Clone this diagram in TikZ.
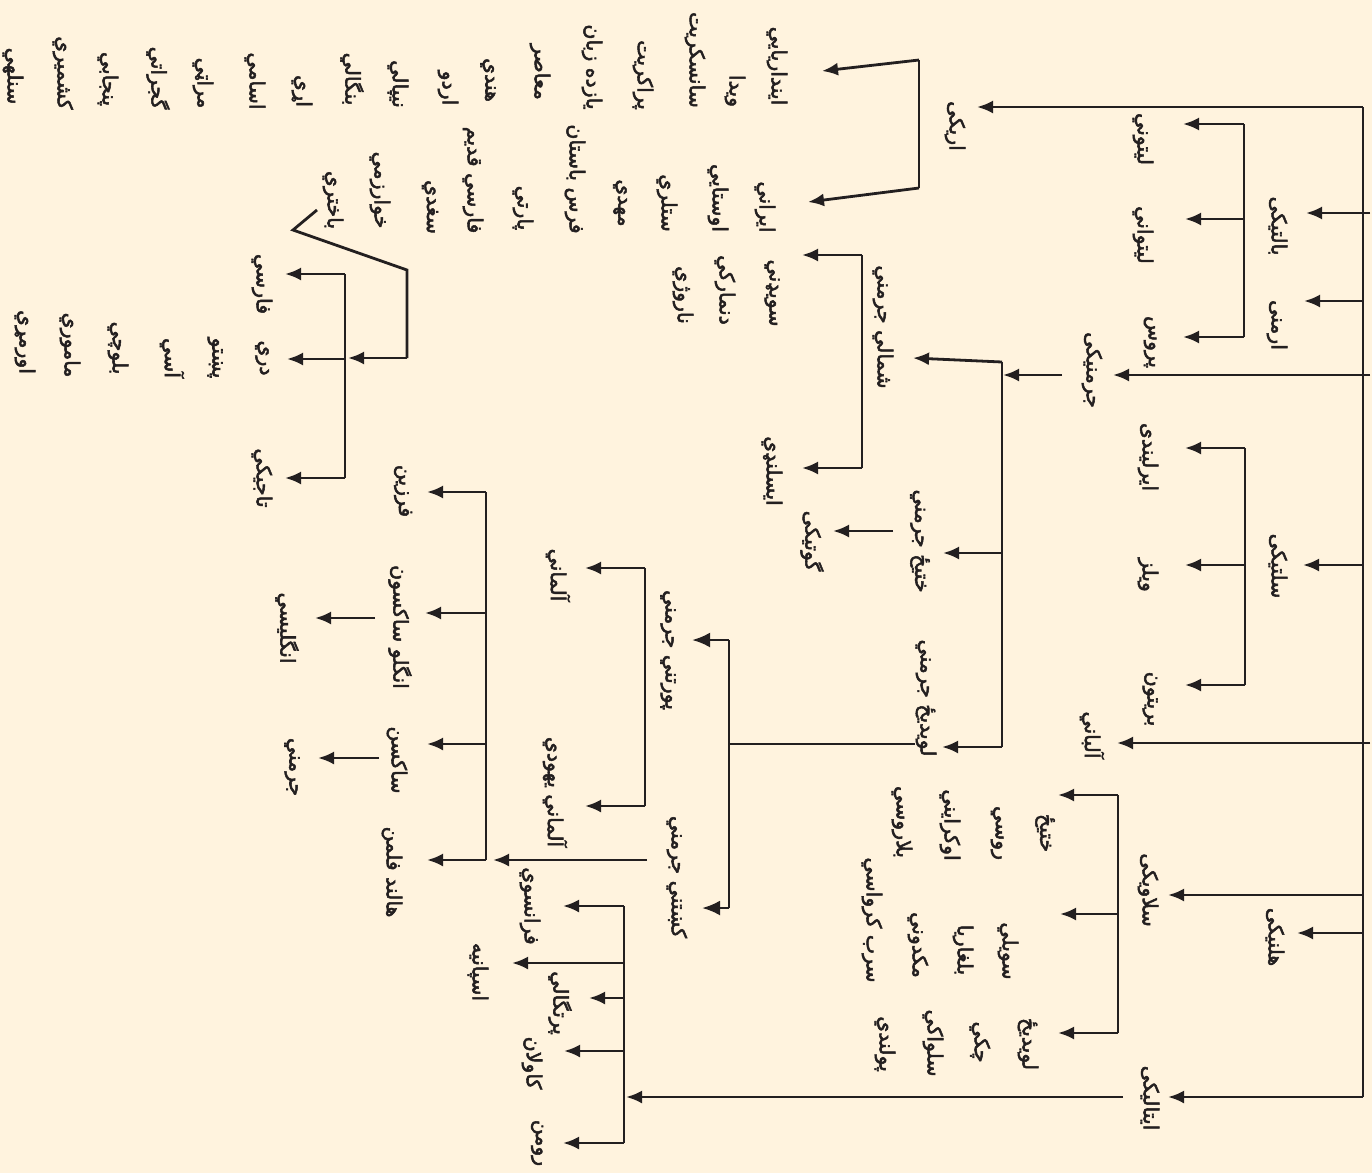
\documentclass[tikz,border=0pt]{standalone}
\usepackage{fontspec}
\newfontfamily\pashtofont[Script=Arabic,FakeBold=2.5]{DejaVu Sans}
\TeXXeTstate=1
\usetikzlibrary{arrows.meta}
\definecolor{paper}{HTML}{FFF3DE}
\definecolor{ink}{HTML}{231F20}
\newcommand\myrtl[1]{\beginR #1\endR}
\tikzset{
  lbl/.style={rotate=-90, inner sep=0pt, text=ink, font=\pashtofont\fontsize{20.5}{22}\selectfont},
  ln/.style={line width=2.8pt, draw=ink, line cap=butt, line join=miter},
  arr/.style={ln, -{Latex[length=16pt,width=13pt]}},
  bigarr/.style={ln, -{Latex[length=18pt,width=15pt]}}
}
\begin{document}
\begin{tikzpicture}[x=1pt,y=-1pt]
\fill[paper] (0,0) rectangle (1372,1173);
\useasboundingbox (0,0) rectangle (1372,1173);

% ---------- labels ----------
% top level
\node[lbl] (aryan) at (955,126) {\myrtl{اریکی}};
\node[lbl] (baltic) at (1278,226) {\myrtl{بالتیکی}};
\node[lbl] (armen) at (1277,325) {\myrtl{ارمنی}};
\node[lbl] (germ) at (1092,370) {\myrtl{جرمنیکی}};
\node[lbl] (celt) at (1278,566) {\myrtl{سلتیکی}};
\node[lbl] (alban) at (1092,735) {\myrtl{آلباني}};
\node[lbl] (slav) at (1148,890) {\myrtl{سلاویکی}};
\node[lbl] (hellen) at (1275,937) {\myrtl{هلنیکی}};
\node[lbl] (ital) at (1150,1098) {\myrtl{ایتالیکی}};
% baltic
\node[lbl] (latv) at (1143,139) {\myrtl{لیتوني}};
\node[lbl] (lith) at (1143,235) {\myrtl{لیتواني}};
\node[lbl] (prus) at (1150,342) {\myrtl{پروس}};
% celtic
\node[lbl] (irish) at (1148,457) {\myrtl{ایرلیندی}};
\node[lbl] (welsh) at (1148,575) {\myrtl{ویلز}};
\node[lbl] (breton) at (1150,699) {\myrtl{بریتون}};
% slavic
\node[lbl] (eslav) at (1045,833) {\myrtl{ختیځ}};
\node[lbl] (russ) at (997,833) {\myrtl{روسي}};
\node[lbl] (ukr) at (950,825) {\myrtl{اوکرایني}};
\node[lbl] (belar) at (902,822) {\myrtl{بلاروسي}};
\node[lbl] (sslav) at (1008,951) {\myrtl{سویلي}};
\node[lbl] (bulg) at (963,950) {\myrtl{بلغاریا}};
\node[lbl] (maced) at (918,945) {\myrtl{مکدوني}};
\node[lbl] (serb) at (872,920) {\myrtl{سرب کرواسي}};
\node[lbl] (wslav) at (1028,1044) {\myrtl{لویدیځ}};
\node[lbl] (czech) at (980,1042) {\myrtl{چکي}};
\node[lbl] (slovak) at (933,1043) {\myrtl{سلواکي}};
\node[lbl] (polish) at (885,1044) {\myrtl{پولندي}};
% germanic
\node[lbl] (ngerm) at (883,327) {\myrtl{شمالي جرمني}};
\node[lbl] (swed) at (772,293) {\myrtl{سویډني}};
\node[lbl] (dan) at (725,290) {\myrtl{دنمارکي}};
\node[lbl] (norw) at (683,295) {\myrtl{ناروژي}};
\node[lbl] (icel) at (772,471) {\myrtl{ایسلنډي}};
\node[lbl] (egerm) at (920,541) {\myrtl{ختیځ جرمني}};
\node[lbl] (goth) at (812,541) {\myrtl{گوتیکی}};
\node[lbl] (wgerm) at (926,698) {\myrtl{لویدیځ جرمني}};
\node[lbl] (hgerm) at (668,650) {\myrtl{پورتني جرمني}};
\node[lbl] (lgerm) at (677,877) {\myrtl{کښتني جرمني}};
\node[lbl] (german1) at (558,575) {\myrtl{آلماني}};
\node[lbl] (yidd) at (555,792) {\myrtl{آلماني یهودي}};
\node[lbl] (fris) at (403,491) {\myrtl{فرزین}};
\node[lbl] (anglo) at (400,627) {\myrtl{انگلو ساکسون}};
\node[lbl] (saxon) at (397,760) {\myrtl{ساکسن}};
\node[lbl] (dutch) at (392,872) {\myrtl{هالند فلمن}};
\node[lbl] (engl) at (287,628) {\myrtl{انگلیسي}};
\node[lbl] (german2) at (292,767) {\myrtl{جرمني}};
% italic
\node[lbl] (french) at (530,906) {\myrtl{فرانسوي}};
\node[lbl] (span) at (478,972) {\myrtl{اسپانیه}};
\node[lbl] (port) at (560,1003) {\myrtl{پرتگالي}};
\node[lbl] (catal) at (532,1063) {\myrtl{کاولان}};
\node[lbl] (roman) at (537,1143) {\myrtl{رومن}};
% aryan
\node[lbl] (indo) at (777,66) {\myrtl{اینداریایي}};
\node[lbl] (veda) at (735,91) {\myrtl{ویدا}};
\node[lbl] (sansk) at (695,60) {\myrtl{سانسکریت}};
\node[lbl] (prak) at (643,75) {\myrtl{پراکریت}};
\node[lbl] (yazd) at (592,67) {\myrtl{یازده زبان}};
\node[lbl] (moas) at (540,72) {\myrtl{معاصر}};
\node[lbl] (hindi) at (488,80) {\myrtl{هندي}};
\node[lbl] (urdu) at (448,88) {\myrtl{اردو}};
\node[lbl] (nepal) at (398,84) {\myrtl{نیپالي}};
\node[lbl] (beng) at (352,79) {\myrtl{بنگالي}};
\node[lbl] (oriya) at (302,91) {\myrtl{اړي}};
\node[lbl] (assam) at (255,81) {\myrtl{اسامي}};
\node[lbl] (marat) at (203,83) {\myrtl{مراټي}};
\node[lbl] (gujar) at (158,78) {\myrtl{گجراتي}};
\node[lbl] (punj) at (108,79) {\myrtl{پنجابي}};
\node[lbl] (kashm) at (63,73) {\myrtl{کشمیري}};
\node[lbl] (sinh) at (13,76) {\myrtl{سنلهي}};
\node[lbl] (iran) at (765,207) {\myrtl{ایراني}};
\node[lbl] (avest) at (718,198) {\myrtl{اوستایي}};
\node[lbl] (scyth) at (667,203) {\myrtl{ستلري}};
\node[lbl] (median) at (620,203) {\myrtl{مهدي}};
\node[lbl] (oldpers) at (575,179) {\myrtl{فرس باستان}};
\node[lbl] (parth) at (523,208) {\myrtl{پارتي}};
\node[lbl] (midpers) at (473,180) {\myrtl{فارسي قدیم}};
\node[lbl] (sogd) at (430,207) {\myrtl{سغدي}};
\node[lbl] (khwar) at (380,190) {\myrtl{خوارزمي}};
\node[lbl] (bact) at (333,200) {\myrtl{باختري}};
\node[lbl] (pers) at (262,284) {\myrtl{فارسي}};
\node[lbl] (dari) at (262,358) {\myrtl{دري}};
\node[lbl] (tajik) at (262,478) {\myrtl{تاجیکي}};
\node[lbl] (pasht) at (215,358) {\myrtl{پښتو}};
\node[lbl] (osset) at (172,358) {\myrtl{آسي}};
\node[lbl] (baluch) at (118,348) {\myrtl{بلوچي}};
\node[lbl] (mamor) at (70,345) {\myrtl{ماموري}};
\node[lbl] (ormur) at (25,342) {\myrtl{اورمړي}};

% ---------- junction coordinates ----------
\coordinate (rootT) at (1363,107);
\coordinate (rootB) at (1363,1097);
\coordinate (baltT) at (1244,124);
\coordinate (baltB) at (1244,337);
\coordinate (celtT) at (1245,448);
\coordinate (celtB) at (1245,685);
\coordinate (slavT) at (1118,795);
\coordinate (slavB) at (1118,1033);
\coordinate (germT) at (1002,362);
\coordinate (germB) at (1002,747);
\coordinate (ngT) at (862,255);
\coordinate (ngB) at (862,468);
\coordinate (wgT) at (729,640);
\coordinate (wgB) at (729,908);
\coordinate (hgT) at (645,568);
\coordinate (hgB) at (645,806);
\coordinate (lgT) at (486,492);
\coordinate (lgB) at (486,860);
\coordinate (itT) at (624,906);
\coordinate (itB) at (624,1143);
\coordinate (irT) at (345,274);
\coordinate (irB) at (345,478);
\coordinate (arT) at (919,60);
\coordinate (arB) at (919,188);

% ---------- root ----------
\draw[ln] (rootT) -- (rootB);
\draw[arr] (rootT) -- (977,107);
\draw[arr] (1370,213) -- (1306,213);
\draw[arr] (1363,301) -- (1304,301);
\draw[arr] (1370,375) -- (1113,375);
\draw[arr] (1363,565) -- (1303,565);
\draw[arr] (1370,743) -- (1117,743);
\draw[arr] (1363,895) -- (1168,895);
\draw[arr] (1363,933) -- (1297,933);
\draw[arr] (rootB) -- (1168,1097);

% ---------- baltic ----------
\draw[ln] (baltT) -- (baltB);
\draw[arr] (baltT) -- (1183,124);
\draw[arr] (1244,219) -- (1185,219);
\draw[arr] (baltB) -- (1183,337);

% ---------- celtic ----------
\draw[ln] (celtT) -- (celtB);
\draw[arr] (celtT) -- (1185,448);
\draw[arr] (1245,565) -- (1185,565);
\draw[arr] (celtB) -- (1185,685);

% ---------- slavic ----------
\draw[ln] (slavT) -- (slavB);
\draw[arr] (slavT) -- (1058,795);
\draw[arr] (1118,914) -- (1060,914);
\draw[arr] (slavB) -- (1058,1033);

% ---------- germanic ----------
\draw[arr] (1062,375) -- (1003,375);
\draw[ln] (germT) -- (germB);
\draw[arr] (germT) -- (913,358);
\draw[arr] (1002,553) -- (943,553);
\draw[arr] (germB) -- (942,747);
\draw[ln] (ngT) -- (ngB);
\draw[arr] (ngT) -- (802,255);
\draw[arr] (ngB) -- (802,468);
\draw[arr] (893,531) -- (833,531);
\draw[ln] (915,744) -- (729,744);
\draw[ln] (wgT) -- (wgB);
\draw[bigarr] (wgT) -- (692,640);
\draw[bigarr] (wgB) -- (702,908);
\draw[ln] (hgT) -- (hgB);
\draw[arr] (hgT) -- (585,568);
\draw[arr] (hgB) -- (585,806);
\draw[arr] (647,860) -- (493,860);
\draw[ln] (lgT) -- (lgB);
\draw[arr] (lgT) -- (427,492);
\draw[arr] (486,613) -- (425,613);
\draw[arr] (486,744) -- (427,744);
\draw[arr] (lgB) -- (427,860);
\draw[arr] (375,618) -- (315,618);
\draw[arr] (379,758) -- (318,758);

% ---------- italic ----------
\draw[arr] (1123,1097) -- (626,1097);
\draw[ln] (itT) -- (itB);
\draw[arr] (itT) -- (563,906);
\draw[arr] (624,963) -- (512,963);
\draw[arr] (624,998) -- (589,998);
\draw[arr] (624,1051) -- (564,1051);
\draw[arr] (itB) -- (563,1143);

% ---------- aryan ----------
\draw[ln] (arT) -- (arB);
\draw[arr] (arT) -- (822,71);
\draw[arr] (arB) -- (808,202);
\draw[ln] (317,210) -- (293,230) -- (407,270) -- (407,358);
\draw[arr] (407,358) -- (348,358);
\draw[ln] (irT) -- (irB);
\draw[arr] (irT) -- (285,274);
\draw[arr] (345,359) -- (287,359);
\draw[arr] (irB) -- (285,478);
\end{tikzpicture}
\end{document}
